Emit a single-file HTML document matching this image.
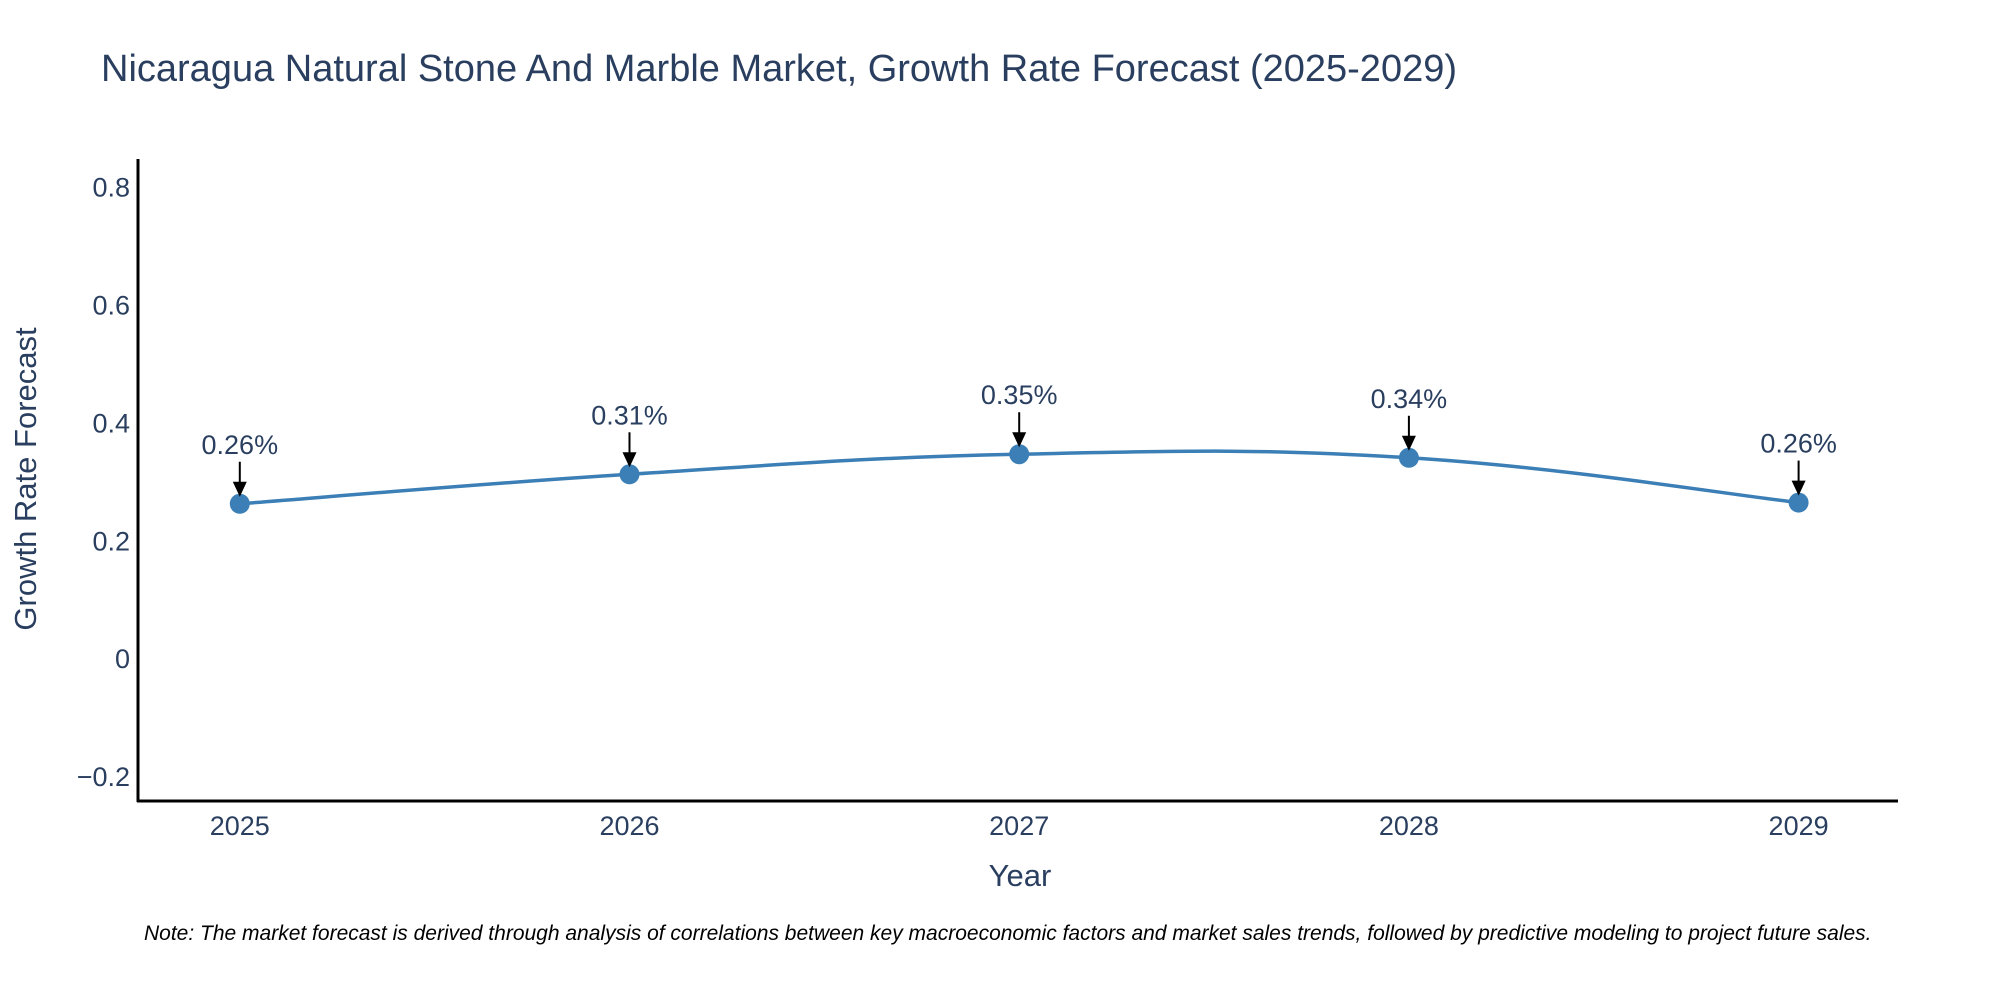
<!DOCTYPE html>
<html><head><meta charset="utf-8">
<style>
html,body{margin:0;padding:0;background:#fff;}
svg{display:block;font-family:"Liberation Sans",sans-serif;}
</style></head>
<body>
<svg id="chart" width="2000" height="1000" viewBox="0 0 2000 1000">
  <text x="101" y="81" font-size="38" fill="#2a3f5f">Nicaragua Natural Stone And Marble Market, Growth Rate Forecast (2025-2029)</text>
  <g id="yticks"></g>
  <g id="xticks"></g>
  <line x1="138" y1="159" x2="138" y2="802" stroke="#000" stroke-width="3"/>
  <line x1="137" y1="801" x2="1898" y2="801" stroke="#000" stroke-width="3"/>
  <path id="series-line" fill="none" stroke="#3b7fb6" stroke-width="3.5"/>
  <g id="points"></g>
  <g id="annots"></g>
  <text transform="translate(36,479) rotate(-90)" text-anchor="middle" font-size="31" fill="#2a3f5f">Growth Rate Forecast</text>
  <text x="1020" y="886" text-anchor="middle" font-size="31" fill="#2a3f5f">Year</text>
  <text x="144" y="940" font-size="21" font-style="italic" fill="#000">Note: The market forecast is derived through analysis of correlations between key macroeconomic factors and market sales trends, followed by predictive modeling to project future sales.</text>
</svg>
<script>
const years = [2025, 2026, 2027, 2028, 2029];
const values = [0.262, 0.312, 0.346, 0.340, 0.264];
const labels = ["0.26%", "0.31%", "0.35%", "0.34%", "0.26%"];
const yTickValues = [-0.2, 0, 0.2, 0.4, 0.6, 0.8];
const yTickLabels = ["\u22120.2", "0", "0.2", "0.4", "0.6", "0.8"];

const NS = "http://www.w3.org/2000/svg";
function xScale(yr){ return 239.8 + (yr - 2025) * 389.7; }
function yScale(v){ return 658.2 - v * 589.5; }
function mk(tag, attrs, parent){ const e = document.createElementNS(NS, tag); for (const k in attrs) e.setAttribute(k, attrs[k]); parent.appendChild(e); return e; }

const yt = document.getElementById('yticks');
yTickValues.forEach((v, i) => {
  const t = mk('text', {x: 130, y: yScale(v) + 10, 'text-anchor': 'end', 'font-size': 27, fill: '#2a3f5f'}, yt);
  
  
  t.textContent = yTickLabels[i];
});
const xt = document.getElementById('xticks');
years.forEach(yr => {
  const t = mk('text', {x: xScale(yr), y: 835, 'text-anchor': 'middle', 'font-size': 27, fill: '#2a3f5f'}, xt);
  
  
  t.textContent = String(yr);
});

const pts = years.map((yr, i) => [xScale(yr), yScale(values[i])]);
let d = 'M' + pts[0][0] + ',' + pts[0][1];
for (let i = 0; i < pts.length - 1; i++) {
  const p0 = pts[i - 1] || pts[i], p1 = pts[i], p2 = pts[i + 1], p3 = pts[i + 2] || pts[i + 1];
  const k = 1 / 5;
  const c1 = [p1[0] + (p2[0] - p0[0]) * k, p1[1] + (p2[1] - p0[1]) * k];
  const c2 = [p2[0] - (p3[0] - p1[0]) * k, p2[1] - (p3[1] - p1[1]) * k];
  d += ' C' + c1.join(',') + ' ' + c2.join(',') + ' ' + p2.join(',');
}
document.getElementById('series-line').setAttribute('d', d);

const pg = document.getElementById('points');
const ag = document.getElementById('annots');
pts.forEach((p, i) => {
  const c = mk('circle', {cx: p[0], cy: p[1], r: 10, fill: '#3b7fb6'}, pg);
  
  
  const l = mk('line', {x1: p[0], y1: p[1] - 42, x2: p[0], y2: p[1] - 20, stroke: '#000', 'stroke-width': 2}, ag);
  
  
  const h = mk('polygon', {points: (p[0] - 7) + ',' + (p[1] - 22) + ' ' + (p[0] + 7) + ',' + (p[1] - 22) + ' ' + p[0] + ',' + (p[1] - 7), fill: '#000'}, ag);
  
  
  const t = mk('text', {x: p[0], y: p[1] - 50, 'text-anchor': 'middle', 'font-size': 27, fill: '#2a3f5f'}, ag);
  
  
  t.textContent = labels[i];
});
</script>
</body></html>
